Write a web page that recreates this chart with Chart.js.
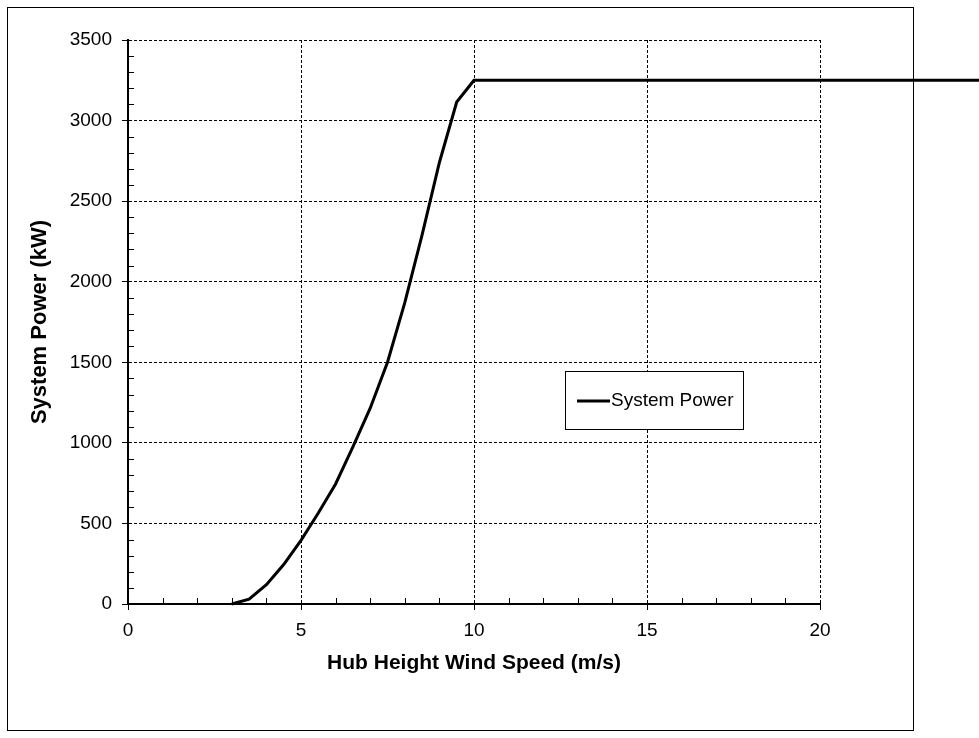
<!DOCTYPE html>
<html><head><meta charset="utf-8">
<script src="https://cdn.jsdelivr.net/npm/chart.js@4/dist/chart.umd.min.js"></script>
<style>html,body{margin:0;padding:0;background:#fff}#wrap{width:979px;height:738px;position:relative}</style>
</head><body><div id="wrap"><canvas id="c" width="979" height="738"></canvas></div>
<script>
const windSpeed = [3,3.5,4,4.5,5,5.5,6,6.5,7,7.5,8,8.5,9,9.5,10,10.5,11,11.5,12,12.5,13,13.5,14,14.5,15,15.5,16,16.5,17,17.5,18,18.5,19,19.5,20,20.5,21,21.5,22,22.5,23,23.5,24,24.5,25];
const systemPower = [0,30,120,245,395,565,745,975,1215,1500,1870,2290,2740,3115,3250,3250,3250,3250,3250,3250,3250,3250,3250,3250,3250,3250,3250,3250,3250,3250,3250,3250,3250,3250,3250,3250,3250,3250,3250,3250,3250,3250,3250,3250,3250];
const xTicks = [0,5,10,15,20];
const yTicks = [0,500,1000,1500,2000,2500,3000,3500];
const xMinorTicks = [1,2,3,4,6,7,8,9,11,12,13,14,16,17,18,19];
const yMinorTicks = [100,200,300,400,600,700,800,900,1100,1200,1300,1400,1600,1700,1800,1900,2100,2200,2300,2400,2600,2700,2800,2900,3100,3200,3300,3400];
const xRange = [0, 20];
const yRange = [0, 3500];
const seriesLabel = 'System Power';
const xTitle = 'Hub Height Wind Speed (m/s)';
const yTitle = 'System Power (kW)';

const FONT = '"Liberation Sans", Arial, sans-serif';

const framePlugin = {
  id: 'frame',
  beforeDraw(chart) {
    const ctx = chart.ctx;
    ctx.save();
    ctx.fillStyle = '#fff';
    ctx.fillRect(0, 0, chart.width, chart.height);
    ctx.strokeStyle = '#000';
    ctx.lineWidth = 1;
    ctx.strokeRect(7.5, 7.5, 906, 723);
    ctx.restore();
  },
  afterDraw(chart) {
    const ctx = chart.ctx;
    const xs = chart.scales.x, ys = chart.scales.y;
    const a = chart.chartArea;
    ctx.save();
    ctx.strokeStyle = '#000';
    ctx.lineWidth = 1;
    ctx.beginPath();
    yMinorTicks.forEach(v => {
      const y = Math.round(ys.getPixelForValue(v)) + 0.5;
      ctx.moveTo(a.left, y); ctx.lineTo(a.left + 6, y);
    });
    xMinorTicks.forEach(v => {
      const x = Math.round(xs.getPixelForValue(v)) + 0.5;
      ctx.moveTo(x, a.bottom); ctx.lineTo(x, a.bottom - 6);
    });
    ctx.stroke();
    // legend
    const lx = 565.5, ly = 371.5, lw = 178, lh = 58;
    ctx.fillStyle = '#fff';
    ctx.fillRect(lx, ly, lw, lh);
    ctx.strokeRect(lx, ly, lw, lh);
    const ds = chart.data.datasets[0];
    ctx.strokeStyle = ds.borderColor;
    ctx.lineWidth = ds.borderWidth;
    ctx.beginPath();
    ctx.moveTo(577, 401); ctx.lineTo(610, 401);
    ctx.stroke();
    ctx.fillStyle = '#000';
    ctx.font = '19px ' + FONT;
    ctx.textBaseline = 'middle';
    ctx.textAlign = 'left';
    ctx.fillText(ds.label, 611, 401);
    ctx.restore();
  }
};

new Chart(document.getElementById('c'), {
  type: 'scatter',
  data: {
    datasets: [{
      label: seriesLabel,
      data: windSpeed.map((x, i) => ({x: x, y: systemPower[i]})),
      showLine: true,
      borderColor: '#000',
      borderWidth: 3,
      pointRadius: 0,
      pointHoverRadius: 0,
      tension: 0,
      clip: false,
      borderJoinStyle: 'miter'
    }]
  },
  options: {
    responsive: false,
    animation: false,
    events: [],
    layout: {padding: {left: 0, right: 159, top: 40, bottom: 0}},
    plugins: {legend: {display: false}, tooltip: {enabled: false}},
    scales: {
      x: {
        type: 'linear',
        afterDataLimits: s => { s.min = xRange[0]; s.max = xRange[1]; },
        afterBuildTicks: s => { s.min = xRange[0]; s.max = xRange[1]; s.ticks = xTicks.map(v => ({value: v})); },
        afterFit: s => { s.height = 134; },
        grid: {color: '#000', lineWidth: 1, drawTicks: true, tickLength: 6, tickColor: '#000', tickWidth: 1},
        border: {display: true, color: '#000', width: 2, dash: [3, 2]},
        ticks: {color: '#000', font: {family: FONT, size: 19}, padding: 9, maxRotation: 0, callback: v => String(v)},
        title: {display: true, text: xTitle, color: '#000', font: {family: FONT, size: 21, weight: 'bold'}, padding: {top: 0, bottom: 62}}
      },
      y: {
        type: 'linear',
        afterDataLimits: s => { s.min = yRange[0]; s.max = yRange[1]; },
        afterBuildTicks: s => { s.min = yRange[0]; s.max = yRange[1]; s.ticks = yTicks.map(v => ({value: v})); },
        afterFit: s => { s.width = 128; },
        grid: {color: '#000', lineWidth: 1, drawTicks: true, tickLength: 6, tickColor: '#000', tickWidth: 1},
        border: {display: true, color: '#000', width: 2, dash: [3, 2]},
        ticks: {color: '#000', font: {family: FONT, size: 19}, padding: 10, callback: v => String(v)},
        title: {display: true, text: yTitle, color: '#000', font: {family: FONT, size: 22, weight: 'bold'}, padding: {top: 27, bottom: 0}}
      }
    }
  },
  plugins: [framePlugin]
});
</script>
</body></html>
